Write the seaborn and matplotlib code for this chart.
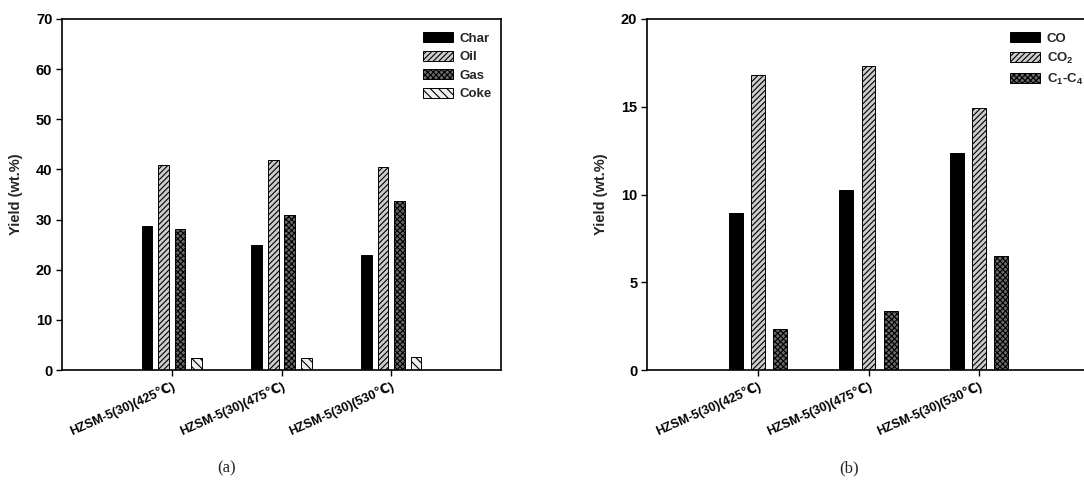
import matplotlib
matplotlib.use("Agg")
import matplotlib.pyplot as plt
import seaborn as sns
import pandas as pd

# ---- data ----
categories = ["HZSM-5(30)(425\u2103)", "HZSM-5(30)(475\u2103)", "HZSM-5(30)(530\u2103)"]
products_a = ["Char", "Oil", "Gas", "Coke"]
char_vals = [28.7, 25.0, 23.0]
oil_vals = [40.9, 41.8, 40.5]
gas_vals = [28.2, 31.0, 33.8]
coke_vals = [2.3, 2.3, 2.6]

gases_b = ["CO", "CO$_2$", "C$_1$-C$_4$"]
co_vals = [8.95, 10.25, 12.35]
co2_vals = [16.8, 17.35, 14.95]
c1c4_vals = [2.35, 3.35, 6.5]

sns.set_theme(style="white")
plt.rcParams["font.family"] = ["Liberation Sans", "DejaVu Sans"]
plt.rcParams["font.weight"] = "bold"
plt.rcParams["mathtext.fontset"] = "custom"
plt.rcParams["mathtext.bf"] = "Liberation Sans:bold"
plt.rcParams["mathtext.rm"] = "Liberation Sans:bold"
plt.rcParams["mathtext.default"] = "bf"
plt.rcParams["hatch.linewidth"] = 0.8

df_a = pd.DataFrame({
    "cat": categories * 4,
    "prod": sum([[p] * 3 for p in products_a], []),
    "val": char_vals + oil_vals + gas_vals + coke_vals,
})
df_b = pd.DataFrame({
    "cat": categories * 3,
    "prod": sum([[p] * 3 for p in gases_b], []),
    "val": co_vals + co2_vals + c1c4_vals,
})

styles = [
    dict(facecolor="black", hatch=""),
    dict(facecolor="#cccccc", hatch="//////"),
    dict(facecolor="#6a6a6a", hatch="xxxxxx"),
    dict(facecolor="#eeeeee", hatch="\\\\\\\\"),
]

fig = plt.figure(figsize=(10.84, 4.82), dpi=100)
W, H = 1084, 482
ax1 = fig.add_axes([62 / W, 1 - 370 / H, (501 - 62) / W, (370 - 19) / H])
ax2 = fig.add_axes([647 / W, 1 - 370 / H, (1090 - 647) / W, (370 - 19) / H])


def draw(ax, df, hue_order, width, gap, ymax, ystep, legend_anchor):
    sns.barplot(data=df, x="cat", y="val", hue="prod", hue_order=hue_order,
                order=categories, width=width, gap=gap, ax=ax,
                palette=["black"] * len(hue_order), legend=False,
                edgecolor="black", linewidth=0.7)
    for cont, st in zip(ax.containers, styles):
        for p in cont.patches:
            p.set_facecolor(st["facecolor"])
            p.set_hatch(st["hatch"])
            p.set_edgecolor("black")
    ax.set_xlim(-1, 3)
    ax.set_ylim(0, ymax)
    ax.set_yticks(range(0, ymax + 1, ystep))
    ax.set_xlabel("")
    ax.set_ylabel("Yield (wt.%)", fontsize=10.5, fontweight="bold", labelpad=9)
    for s in ax.spines.values():
        s.set_visible(True)
        s.set_color("black")
        s.set_linewidth(1.2)
    ax.tick_params(axis="y", direction="out", length=4, width=1, left=True,
                   labelsize=10.5, pad=3, colors="black")
    ax.tick_params(axis="x", direction="out", length=4, width=1, bottom=True,
                   labelsize=9, pad=3, colors="black")
    for lab in ax.get_xticklabels():
        lab.set_rotation(24)
        lab.set_ha("right")
        lab.set_rotation_mode("anchor")
        lab.set_fontweight("bold")
    for lab in ax.get_yticklabels():
        lab.set_fontweight("bold")
    leg = ax.legend(ax.containers, hue_order, loc="upper left",
                    bbox_to_anchor=legend_anchor, frameon=False,
                    fontsize=9.5, handlelength=2.3, handleheight=0.8,
                    labelspacing=0.45, handletextpad=0.5, borderaxespad=0,
                    borderpad=0)
    for t in leg.get_texts():
        t.set_fontweight("bold")


draw(ax1, df_a, products_a, 0.6, 0.35, 70, 10, ((423 - 62) / 439, 1 - (32 - 19) / 351))
draw(ax2, df_b, gases_b, 0.6, 0.37, 20, 5, ((1010 - 647) / 443, 1 - (32 - 19) / 351))

fig.text(227 / W, 1 - 468 / H, "(a)", ha="center", va="center",
         fontsize=12, fontweight="normal", family="Liberation Serif")
fig.text(849 / W, 1 - 468 / H, "(b)", ha="center", va="center",
         fontsize=12, fontweight="normal", family="Liberation Serif")

fig.savefig("out.png", dpi=100)
